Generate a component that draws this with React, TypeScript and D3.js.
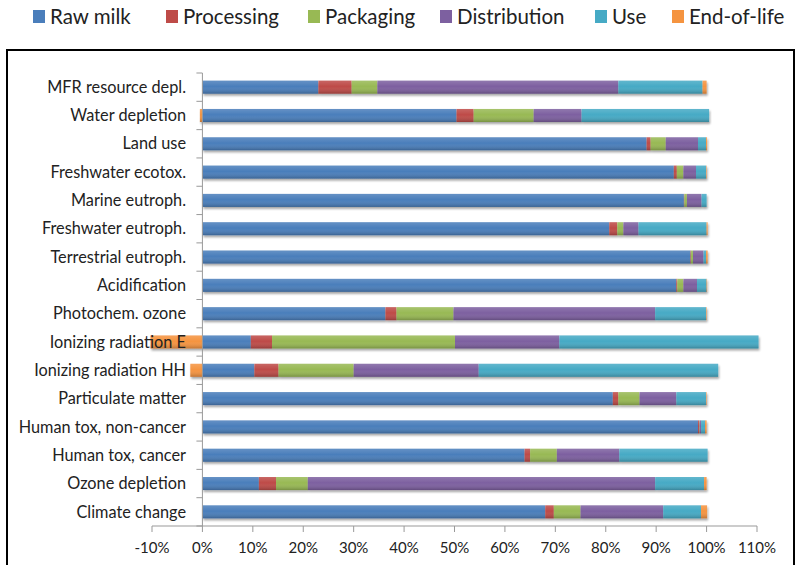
import * as d3 from 'd3';

const categories = [
  'MFR resource depl.',
  'Water depletion',
  'Land use',
  'Freshwater ecotox.',
  'Marine eutroph.',
  'Freshwater eutroph.',
  'Terrestrial eutroph.',
  'Acidification',
  'Photochem. ozone',
  'Ionizing radiation E',
  'Ionizing radiation HH',
  'Particulate matter',
  'Human tox, non-cancer',
  'Human tox, cancer',
  'Ozone depletion',
  'Climate change',
];

const stages = ['Raw milk', 'Processing', 'Packaging', 'Distribution', 'Use', 'End-of-life'];
const colors = ['#4A7EBB', '#BE4B48', '#98B954', '#7D60A0', '#46AAC5', '#F59440'];

// shares in %, same order as categories
const rawMilk = [23.0, 50.4, 88.1, 93.5, 95.5, 80.7, 96.8, 94.0, 36.3, 9.6, 10.3, 81.4, 98.3, 63.9, 11.2, 68.0];
const processing = [6.6, 3.4, 0.8, 0.6, 0.1, 1.6, 0.1, 0.2, 2.2, 4.2, 4.8, 1.1, 0.2, 1.1, 3.4, 1.7];
const packaging = [5.1, 11.9, 3.0, 1.3, 0.5, 1.2, 0.4, 1.2, 11.3, 36.3, 14.9, 4.2, 0.1, 5.3, 6.3, 5.3];
const distribution = [47.8, 9.5, 6.4, 2.5, 2.9, 3.0, 2.1, 2.7, 40.0, 20.7, 24.8, 7.3, 0.3, 12.4, 68.9, 16.4];
const use = [16.7, 25.3, 1.6, 2.0, 1.0, 13.5, 0.5, 1.9, 10.1, 39.5, 47.5, 5.9, 0.8, 17.5, 9.7, 7.5];
const endOfLife = [0.8, -0.5, 0.2, 0.1, 0.0, 0.2, 0.3, 0.1, 0.1, -10.3, -2.4, 0.1, 0.3, 0.0, 0.5, 1.2];

const xTicks = [-10, 0, 10, 20, 30, 40, 50, 60, 70, 80, 90, 100, 110];

const series = [rawMilk, processing, packaging, distribution, use, endOfLife];

const table = categories.map((c, i) => {
  const row: Record<string, any> = { category: c };
  stages.forEach((s, j) => (row[s] = series[j][i]));
  return row;
});

const legendX = [33, 166, 308, 440, 595, 672];

export default function App() {
  const width = 800;
  const height = 565;

  const x = d3.scaleLinear().domain([-10, 110]).range([152, 757]);
  const y = d3.scaleBand().domain(categories).range([73, 526]).paddingInner(0.54).paddingOuter(0.27);

  const stacked = d3.stack<any>().keys(stages).offset(d3.stackOffsetDiverging)(table);

  const font = 'Lato, "Open Sans", sans-serif';
  const step = y.step();

  return (
    <div style={{ position: 'absolute', left: 0, top: 0 }}>
      <svg width={width} height={height} style={{ display: 'block', background: '#fff' }}>
        <defs>
          <linearGradient id="shade" x1="0" y1="0" x2="0" y2="1">
            <stop offset="0" stopColor="#fff" stopOpacity={0.15} />
            <stop offset="0.45" stopColor="#fff" stopOpacity={0} />
            <stop offset="1" stopColor="#000" stopOpacity={0.22} />
          </linearGradient>
          <filter id="shadow" x="-5%" y="-30%" width="110%" height="180%">
            <feGaussianBlur in="SourceAlpha" stdDeviation="1.2" />
            <feOffset dx="1" dy="2" result="b" />
            <feComponentTransfer>
              <feFuncA type="linear" slope="0.35" />
            </feComponentTransfer>
            <feMerge>
              <feMergeNode />
              <feMergeNode in="SourceGraphic" />
            </feMerge>
          </filter>
        </defs>

        {/* legend */}
        {stages.map((s, i) => (
          <g key={s}>
            <rect x={legendX[i]} y={10} width={12} height={13} fill={colors[i]} />
            <text x={legendX[i] + 17} y={24} fontFamily={font} fontSize={20.5} fill="#222">
              {s}
            </text>
          </g>
        ))}

        {/* frame */}
        <rect x={7} y={50} width={787} height={530} fill="none" stroke="#000" strokeWidth={2} />

        {/* bars */}
        {categories.map((c, i) => {
          const lo = d3.min(stacked, l => Math.min(l[i][0], l[i][1]))!;
          const hi = d3.max(stacked, l => Math.max(l[i][0], l[i][1]))!;
          return (
            <g key={c} filter="url(#shadow)">
              {stacked.map((layer, j) => {
                const d = layer[i];
                const x0 = x(Math.min(d[0], d[1]));
                const x1 = x(Math.max(d[0], d[1]));
                if (x1 - x0 <= 0) return null;
                return (
                  <rect key={j} x={x0} y={y(c)!} width={x1 - x0} height={y.bandwidth()} fill={colors[j]} />
                );
              })}
              <rect x={x(lo)} y={y(c)!} width={x(hi) - x(lo)} height={y.bandwidth()} fill="url(#shade)" />
            </g>
          );
        })}

        {/* y axis */}
        <line x1={x(0)} x2={x(0)} y1={73} y2={526} stroke="#999" />
        {d3.range(categories.length + 1).map(k => (
          <line key={k} x1={x(0) - 6} x2={x(0)} y1={73 + k * step} y2={73 + k * step} stroke="#999" />
        ))}
        {categories.map(c => (
          <text
            key={c}
            x={186}
            y={y(c)! + y.bandwidth() / 2}
            dy="0.35em"
            textAnchor="end"
            fontFamily={font}
            fontSize={16.3}
            fill="#222"
          >
            {c}
          </text>
        ))}

        {/* x axis */}
        <line x1={x(-10)} x2={x(110)} y1={526} y2={526} stroke="#999" />
        {xTicks.map(t => (
          <g key={t}>
            <line x1={x(t)} x2={x(t)} y1={526} y2={532} stroke="#999" />
            <text x={x(t)} y={553} textAnchor="middle" fontFamily={font} fontSize={15} fill="#222">
              {t}%
            </text>
          </g>
        ))}
      </svg>
    </div>
  );
}
